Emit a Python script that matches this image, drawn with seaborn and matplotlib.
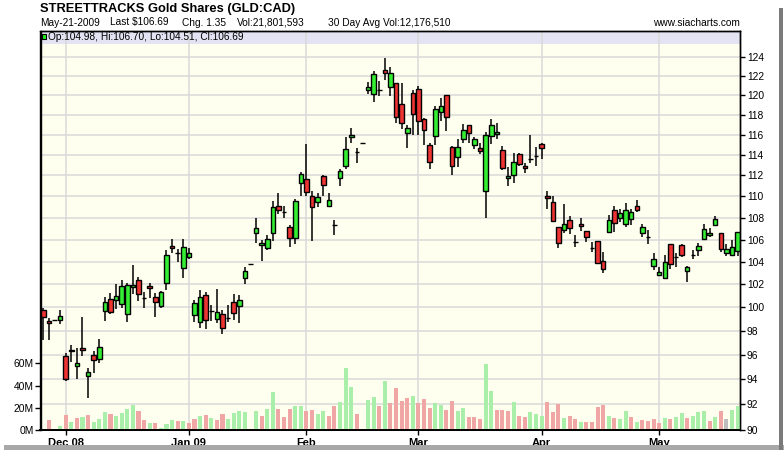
import numpy as np
import pandas as pd
import matplotlib
matplotlib.use("Agg")
import matplotlib.pyplot as plt
from matplotlib.patches import Rectangle
from matplotlib.ticker import FixedLocator, FixedFormatter, NullLocator
import seaborn as sns

sns.set_theme(style="white")
plt.rcParams['font.family'] = ['Liberation Sans', 'DejaVu Sans']

# ---------------- data ----------------
opens = [99.75, 98.85, 98.95, 98.9, 95.9, 96.35, 95.07, 96.55, 94.25, 95.97,
         95.64, 99.67, 100.7, 100.61, 100.27, 99.41, 101.74, 102.38, 100.78, 101.85,
         100.9, 100.09, 102.09, 105.41, 104.81, 103.42, 104.4, 99.33, 98.73, 101.05,
         99.67, 98.99, 99.41, 99.12, 100.44, 100.09, 102.53, 103.77, 106.57, 105.48,
         105.26, 106.57, 109.07, 108.57, 107.12, 106.11, 111.32, 111.63, 110.01, 109.5,
         111.91, 109.07, 107.36, 111.72, 112.88, 115.73, 114.3, 115.14, 120.5, 120.08,
         120.53, 122.59, 120.81, 121.22, 119.06, 116.13, 120.18, 120.6, 117.53, 114.94,
         115.89, 118.23, 119.98, 114.74, 113.76, 115.53, 116.93, 114.94, 114.64, 110.48,
         115.83, 116.03, 114.45, 111.72, 112.01, 114.05, 112.91, 113.61, 113.91, 115.04,
         110.04, 109.44, 107.12, 106.84, 107.77, 105.75, 107.39, 106.75, 105.26, 105.84,
         104.06, 106.66, 108.73, 107.95, 107.39, 107.86, 109.07, 106.57, 106.23, 103.64,
         102.8, 102.58, 105.57, 104.4, 105.48, 103.21, 104.61, 105.08, 106.04, 106.41,
         107.36, 106.59, 104.76, 104.61, 104.98]
highs = [99.95, 99.05, 98.95, 99.78, 96.15, 96.85, 96.55, 99.18, 94.9, 96.33,
         97.32, 100.93, 101.22, 102.0, 102.38, 102.09, 103.71, 102.64, 101.36, 102.09,
         101.22, 101.44, 105.08, 106.04, 105.14, 106.04, 105.2, 100.64, 101.51, 101.36,
         100.2, 101.57, 99.78, 100.2, 101.16, 101.07, 103.5, 103.77, 108.01, 105.96,
         106.41, 109.54, 110.32, 109.1, 107.33, 109.73, 112.36, 115.07, 110.51, 110.32,
         112.04, 110.32, 107.8, 112.62, 115.79, 116.63, 114.64, 115.14, 121.33, 122.48,
         121.43, 123.89, 122.94, 121.26, 121.22, 116.99, 120.5, 120.94, 117.69, 115.14,
         118.87, 119.73, 119.98, 114.9, 115.53, 117.03, 116.93, 115.73, 115.14, 116.26,
         117.53, 117.13, 114.87, 112.84, 114.15, 114.15, 113.22, 115.96, 114.74, 115.14,
         110.51, 110.04, 107.12, 109.29, 108.17, 106.41, 107.98, 106.75, 105.8, 105.84,
         104.87, 108.23, 109.1, 108.79, 109.38, 108.82, 109.66, 107.42, 106.87, 104.81,
         103.5, 104.58, 105.57, 104.76, 105.57, 103.64, 105.05, 105.66, 107.42, 107.03,
         108.17, 106.59, 105.6, 105.96, 106.70]
lows = [97.2, 97.25, 98.95, 98.6, 93.9, 95.45, 94.0, 95.9, 92.49, 94.54,
        95.31, 98.87, 99.41, 99.89, 99.92, 98.78, 101.13, 100.58, 99.97, 100.83,
        99.2, 99.97, 101.53, 104.76, 104.0, 102.53, 104.24, 98.78, 98.27, 98.19,
        98.84, 98.7, 97.72, 98.73, 98.95, 98.7, 102.0, 103.77, 105.71, 104.09,
        105.05, 105.86, 108.38, 108.01, 105.35, 105.6, 110.07, 110.07, 105.89, 109.01,
        110.04, 109.04, 106.41, 111.0, 112.65, 115.14, 113.22, 115.14, 120.08, 119.32,
        119.94, 121.53, 119.94, 117.13, 116.59, 114.7, 115.99, 115.99, 115.0, 112.65,
        115.0, 117.39, 116.39, 112.04, 112.84, 115.2, 115.14, 114.54, 114.05, 108.01,
        115.07, 115.53, 112.52, 111.0, 111.28, 112.94, 112.26, 113.22, 112.94, 113.56,
        108.8, 107.68, 105.26, 106.62, 106.53, 105.35, 106.8, 105.8, 104.9, 103.77,
        103.03, 106.57, 106.71, 107.64, 107.17, 107.33, 108.57, 106.26, 105.57, 103.27,
        102.71, 102.58, 103.33, 103.56, 104.4, 102.23, 104.21, 104.54, 105.96, 106.2,
        107.27, 104.85, 104.51, 104.54, 104.51]
closes = [99.15, 98.65, 98.95, 99.26, 94.0, 96.4, 95.34, 96.38, 94.57, 95.56,
          96.63, 100.44, 99.58, 100.99, 101.85, 101.91, 101.94, 101.13, 100.78, 101.65,
          100.44, 101.3, 104.58, 105.2, 104.81, 105.29, 104.76, 100.35, 100.87, 98.9,
          99.67, 99.6, 98.22, 99.12, 99.5, 100.61, 103.15, 103.77, 107.06, 105.69,
          106.02, 108.98, 108.76, 108.57, 106.11, 109.57, 112.1, 110.39, 108.98, 109.92,
          111.11, 109.66, 107.36, 112.43, 114.54, 115.96, 114.3, 115.14, 120.81, 122.16,
          120.53, 122.33, 122.27, 117.73, 117.13, 116.63, 118.03, 117.39, 116.43, 113.35,
          118.54, 118.87, 117.73, 112.88, 114.74, 116.43, 116.13, 115.53, 114.35, 115.93,
          116.93, 116.23, 112.69, 111.94, 113.35, 113.07, 112.69, 113.61, 113.91, 114.64,
          109.82, 107.68, 105.65, 107.39, 107.03, 105.75, 107.21, 106.23, 105.26, 103.86,
          103.38, 107.77, 107.49, 108.45, 108.7, 108.51, 108.7, 107.12, 106.23, 104.21,
          103.06, 103.97, 103.77, 104.4, 104.58, 103.5, 104.61, 105.39, 106.93, 106.62,
          107.86, 105.14, 105.14, 105.34, 106.69]
volumes_m = [0, 9, 0, 3.6, 13.5, 7, 11, 11.7, 13.5, 7,
             10, 16, 14.4, 12.6, 15.3, 19, 22.5, 17, 9, 6.3,
             6.3, 1.8, 5.4, 9, 8, 8, 6.3, 10, 12.6, 13.5,
             10.8, 9, 14.4, 10, 15.3, 17, 16, 0, 17, 12.6,
             19, 34, 19, 12, 19, 21.6, 21.6, 17.4, 18, 14.4,
             17, 12.9, 21.6, 25, 56, 38.7, 14.4, 0, 27, 29.7,
             21.6, 44, 24.3, 37.8, 26, 28.8, 30.6, 24.3, 28, 19.8,
             24.3, 22.5, 18, 26, 17, 19.8, 11.7, 11.7, 9.9, 59.5,
             35, 18, 18, 17, 25, 12.6, 11.7, 16, 14.4, 12.6,
             25, 16, 23.4, 10.8, 12.6, 9.9, 7.2, 7.2, 7.2, 20.7,
             22.5, 12.6, 10.8, 9.9, 17, 11.7, 7.2, 9, 8.1, 9.9,
             6.3, 10.8, 9.9, 11.7, 15.3, 10.8, 12.6, 16, 17, 8.1,
             11.7, 17, 9.9, 18, 21.8]
month_labels = ["Dec 08", "Jan 09", "Feb", "Mar", "Apr", "May"]
month_pos = [4, 26, 47, 67, 89, 110]
price_ticks = list(range(90, 126, 2))
vol_ticks = [0, 20, 40, 60]
vol_tick_labels = ["0M", "20M", "40M", "60M"]

title = "STREETTRACKS Gold Shares (GLD:CAD)"
info_parts = ["May-21-2009", "Last $106.69", "Chg. 1.35", "Vol:21,801,593",
              "30 Day Avg Vol:12,176,510"]
site = "www.siacharts.com"
legend_text = "Op:104.98, Hi:106.70, Lo:104.51, Cl:106.69"

# ---------------- frame ----------------
n = len(closes)
idx = np.arange(n)
o = np.array(opens); c = np.array(closes); h = np.array(highs); l = np.array(lows)
prev = np.concatenate([[c[0]], c[:-1]])
vdir = np.where(c > prev + 1e-9, "up", np.where(c < prev - 1e-9, "down", "flat"))
df = pd.DataFrame({"i": idx, "vol": volumes_m, "dir": vdir})

W, H = 784, 450
fig = plt.figure(figsize=(W / 100, H / 100), dpi=100)
fig.patch.set_facecolor("white")

L, R, T, B = 40.5, 740, 31, 430
ax_p = fig.add_axes([L / W, 1 - B / H, (R - L) / W, (B - T) / H])
ax_p.set_facecolor("#ffffef")

GRID = "#d9d9d9"
ax_p.set_yscale("log")
ax_p.set_ylim(90, 126.8)
ax_p.set_xlim(-0.5, 124.42)

# header band
ax_p.add_patch(Rectangle((0, (B - 44) / (B - T)), 1, 1 - (B - 44) / (B - T),
                         transform=ax_p.transAxes, facecolor="#e3e3f3",
                         edgecolor="none", zorder=0.2))

ax_p.set_axisbelow(True)
ax_p.grid(True, color=GRID, linewidth=1.1)

# candles
body_lo = np.minimum(o, c)
body_h = np.abs(c - o)
face = np.where(c > o, "#33ee33", np.where(c < o, "#ee3333", "black"))
ax_p.vlines(idx, l, h, color="black", linewidth=1.1, zorder=3)
ax_p.bar(idx, body_h, bottom=body_lo, width=0.8, color=face, edgecolor="black",
         linewidth=1.0, zorder=4)

# volume axis
ax_v = ax_p.twinx()
ax_v.set_zorder(ax_p.get_zorder() + 1)
ax_v.patch.set_visible(False)
sns.barplot(data=df, x="i", y="vol", hue="dir", native_scale=True,
            palette={"up": "#9dfb9d", "down": "#fd9a9a", "flat": "#bdbdbd"},
            dodge=False, width=0.72, linewidth=0, errorbar=None, legend=False,
            ax=ax_v)
ax_v.set_ylim(0, (B - T) / 1.11)
ax_v.set_xlim(-0.5, 124.42)
ax_v.set_xlabel(""); ax_v.set_ylabel("")
ax_v.grid(False)
ax_v.yaxis.tick_left()
ax_v.yaxis.set_major_locator(FixedLocator(vol_ticks))
ax_v.yaxis.set_major_formatter(FixedFormatter(vol_tick_labels))
ax_v.yaxis.set_minor_locator(NullLocator())
ax_v.tick_params(axis="y", which="both", direction="out", length=3.5, width=1,
                 color="black", pad=1.5, labelsize=7.4, labelcolor="black",
                 left=True, labelleft=True, right=False, labelright=False)
ax_v.tick_params(axis="x", which="both", bottom=False, labelbottom=False,
                 top=False, labeltop=False)

# price axis ticks (after twinx, which moves them)
ax_p.yaxis.tick_right()
ax_p.yaxis.set_major_locator(FixedLocator(price_ticks))
ax_p.yaxis.set_major_formatter(FixedFormatter([str(t) for t in price_ticks]))
ax_p.yaxis.set_minor_locator(NullLocator())
ax_p.tick_params(axis="y", which="both", direction="out", length=3.5, width=1,
                 color="black", pad=1.5, labelsize=7.4, labelcolor="black",
                 right=True, labelright=True, left=False, labelleft=False)
ax_p.xaxis.set_major_locator(FixedLocator(month_pos))
ax_p.xaxis.set_major_formatter(FixedFormatter(month_labels))
ax_p.xaxis.set_minor_locator(NullLocator())
ax_p.tick_params(axis="x", which="major", direction="out", length=3.5, width=1,
                 color="black", pad=2, labelsize=8, labelcolor="black", bottom=True)
for lab in ax_p.get_xticklabels():
    lab.set_fontweight("bold")

for a in (ax_p, ax_v):
    for s in a.spines.values():
        s.set_color("black")
        s.set_linewidth(1)
        s.set_visible(True)
ax_p.spines["bottom"].set_linewidth(1.4)
ax_v.spines["bottom"].set_linewidth(1.4)

# header texts
def fx(px):
    return px / W
def fy(py):
    return 1 - py / H

fig.text(fx(40), fy(9), title, fontsize=9.3, fontweight="bold", va="center",
         ha="left", color="black")
info_x = [40, 109.5, 182, 237, 328.5]
for x, t in zip(info_x, info_parts):
    fig.text(fx(x), fy(22.5), t, fontsize=7.3, va="center", ha="left", color="black")
fig.text(fx(740), fy(22.5), site, fontsize=7.3, va="center", ha="right", color="black")

fig.patches.append(Rectangle((fx(41.5), fy(38.5)), 4.5 / W, 4.5 / H,
                             transform=fig.transFigure, facecolor="#22ee22",
                             edgecolor="black", linewidth=0.8, figure=fig))
fig.text(fx(47.5), fy(37.5), legend_text, fontsize=7.3, va="center", ha="left",
         color="black")

# drop shadow of the screenshot frame
fig.patches.append(Rectangle((fx(4), 0), 1, 5 / H, transform=fig.transFigure,
                             facecolor="#a8a8a8", edgecolor="none", figure=fig))
fig.patches.append(Rectangle((fx(779), 0), 3.5 / W, fy(8), transform=fig.transFigure,
                             facecolor="#7a7a7a", edgecolor="none", figure=fig))

fig.savefig("out.png", dpi=100, facecolor="white")
